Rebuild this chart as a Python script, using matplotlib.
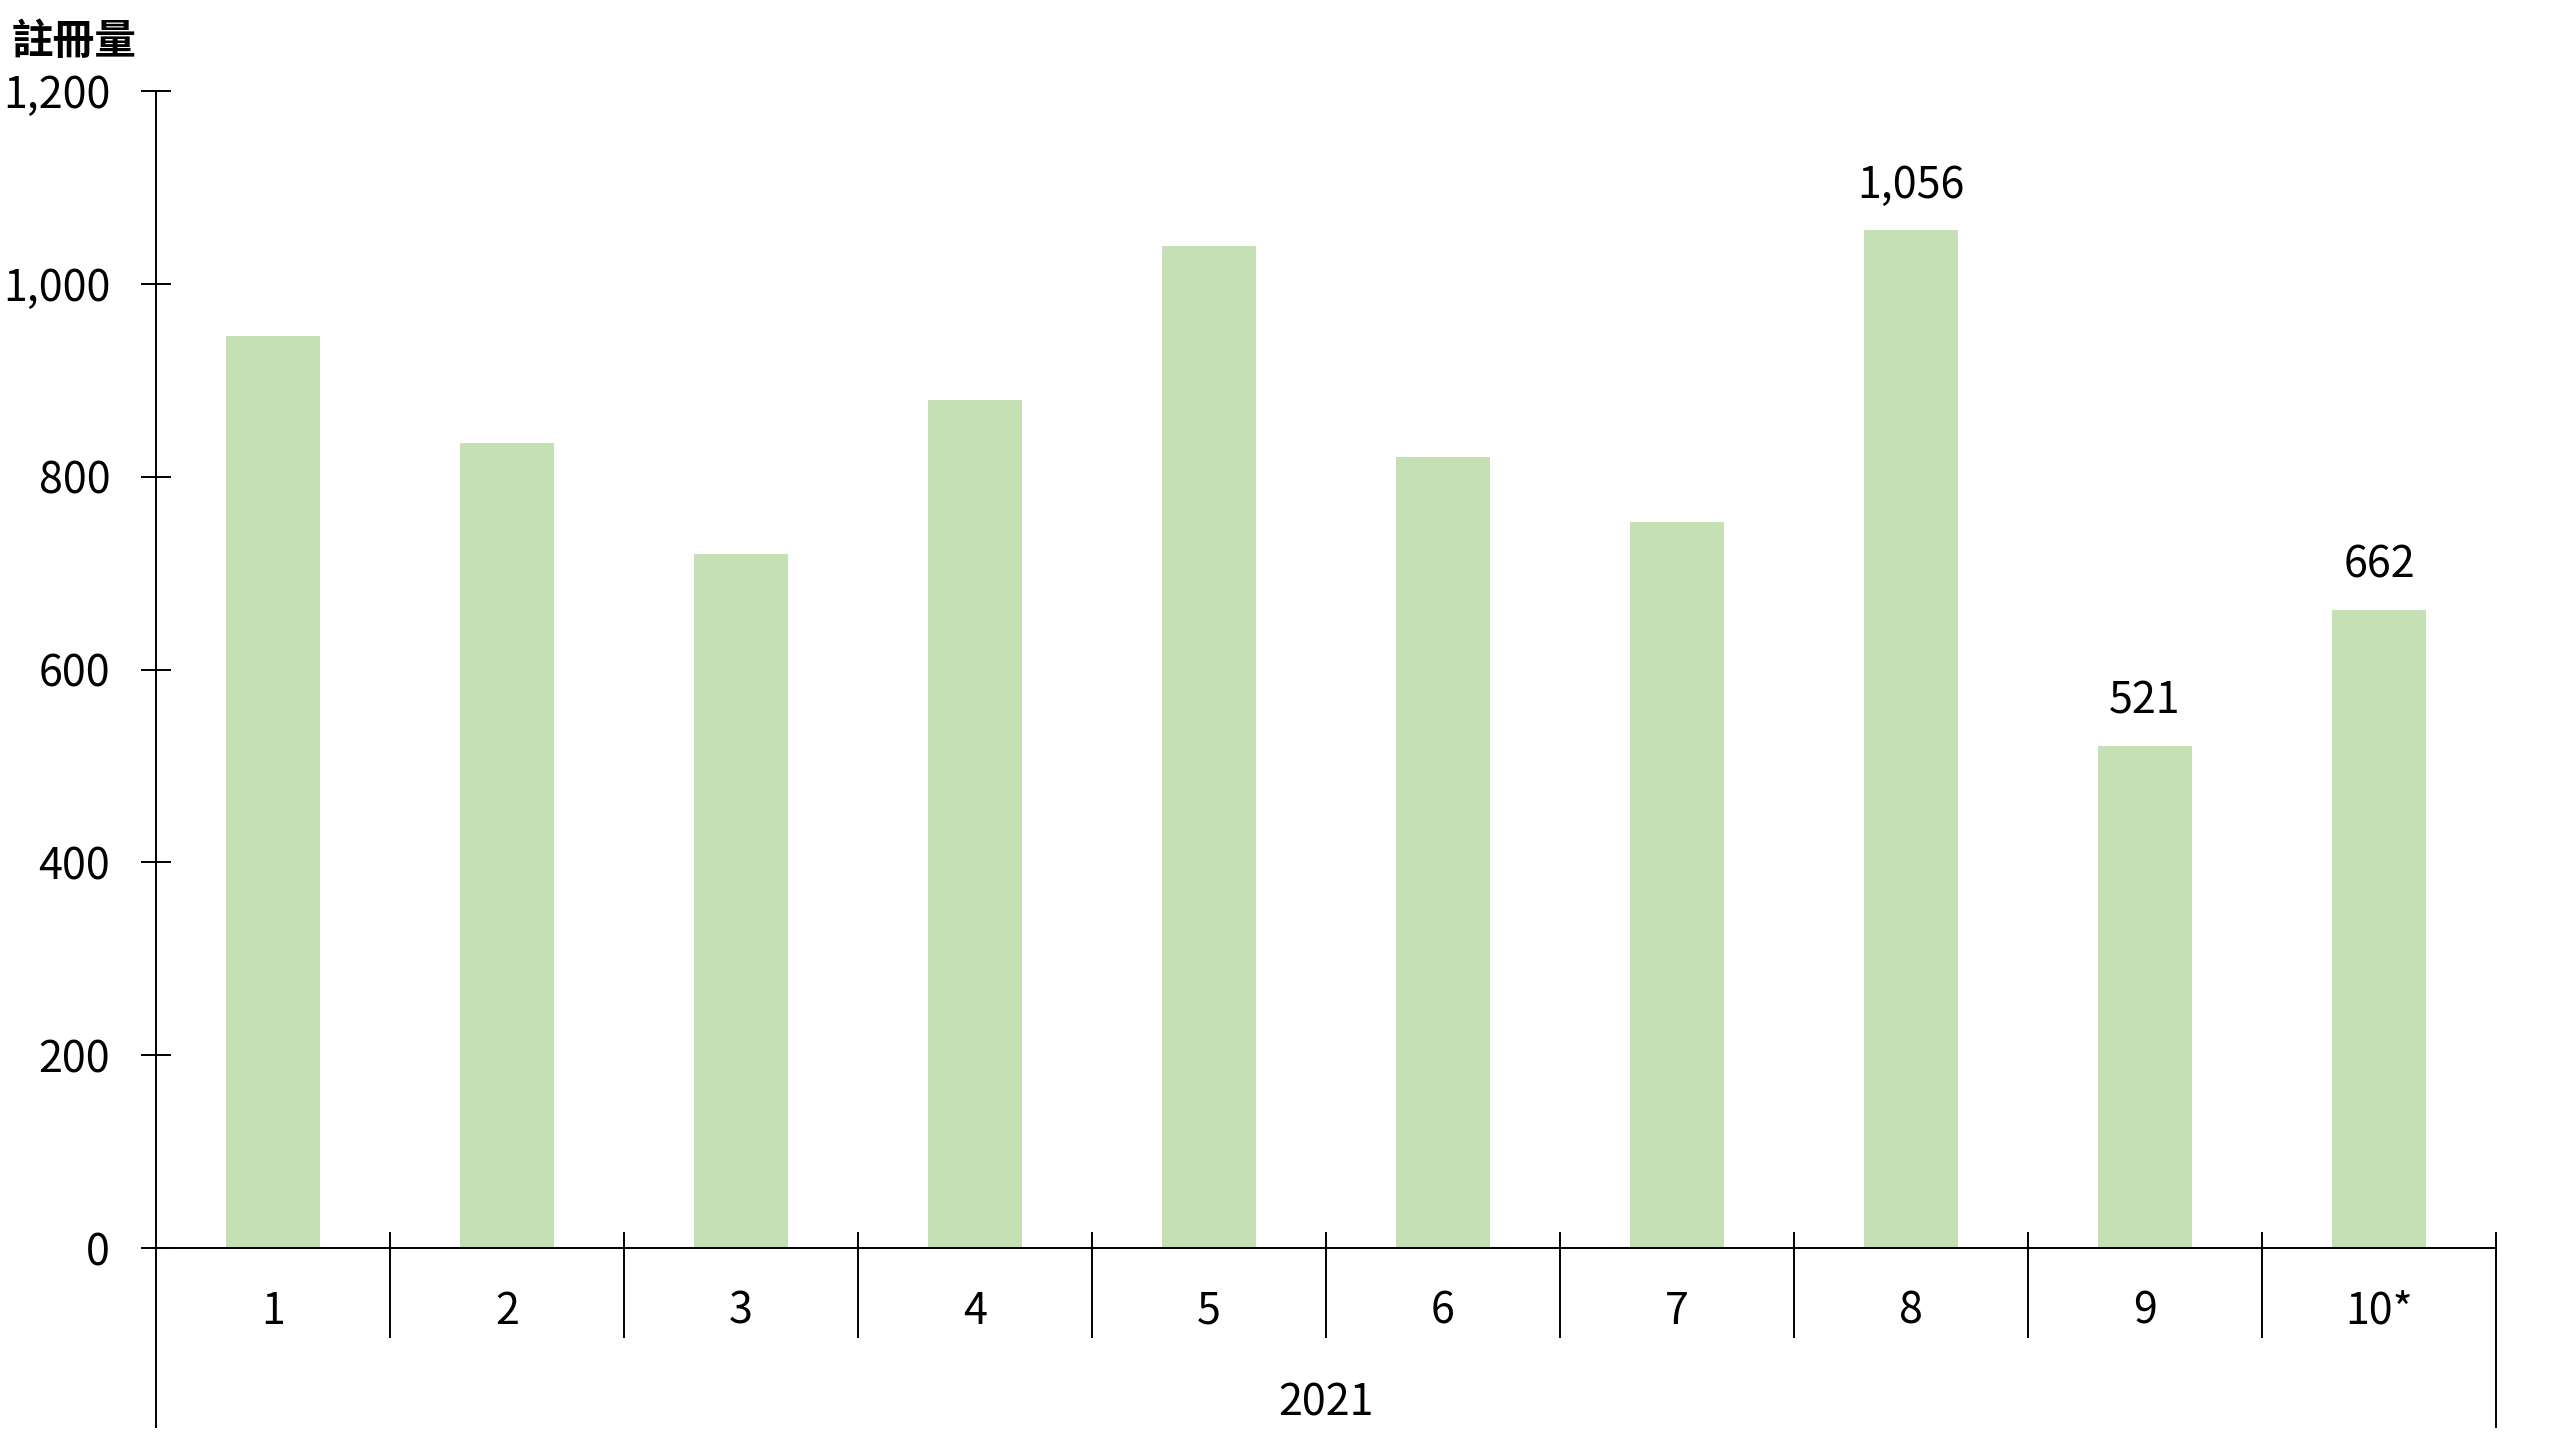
import matplotlib
matplotlib.use("Agg")
import matplotlib.pyplot as plt
import matplotlib.transforms as mtransforms

plt.rcParams['font.family'] = ['Noto Sans CJK TC', 'DejaVu Sans']

# data
months = ['1', '2', '3', '4', '5', '6', '7', '8', '9', '10*']
values = [946, 835, 720, 880, 1039, 820, 753, 1056, 521, 662]
labelled = [7, 8, 9]  # bars that carry a value label
year_label = '2021'
y_ticks = [0, 200, 400, 600, 800, 1000, 1200]
y_title = '註冊量'

W, H = 2560, 1440
fig = plt.figure(figsize=(W / 100, H / 100), dpi=100)
ax_left, ax_right, ax_top, ax_bot = 156, 2496, 91, 1248
ax = fig.add_axes([ax_left / W, 1 - ax_bot / H, (ax_right - ax_left) / W, (ax_bot - ax_top) / H])
axh = ax_bot - ax_top

xpos = [i + 0.5 for i in range(len(months))]
ax.bar(xpos, values, width=0.4, color='#C5E0B4', zorder=2)

for i in labelled:
    ax.annotate(f'{values[i]:,}', (xpos[i], values[i]), xytext=(0, 44), textcoords='offset pixels',
                ha='center', va='center', fontsize=31)

ax.set_xlim(0, len(months))
ax.set_ylim(0, 1200)
ax.set_yticks(y_ticks)
ax.set_yticklabels([f'{v:,}' for v in y_ticks], fontsize=31)
ax.tick_params(axis='y', direction='inout', length=22, width=1.4, pad=22)
ax.set_xticks([])
for s in ['top', 'right']:
    ax.spines[s].set_visible(False)
for s in ['left', 'bottom']:
    ax.spines[s].set_linewidth(1.4)

# category separators and outer frame lines below the axis
trans = mtransforms.blended_transform_factory(ax.transData, ax.transAxes)
up = 15 / axh
for k in range(1, len(months)):
    ax.plot([k, k], [up, -89 / axh], color='black', lw=1.4, transform=trans, clip_on=False)
ax.plot([0, 0], [0, -179 / axh], color='black', lw=1.4, transform=trans, clip_on=False)
ax.plot([len(months)] * 2, [up, -179 / axh], color='black', lw=1.4, transform=trans, clip_on=False)

for x, m in zip(xpos, months):
    ax.text(x, -64 / axh, m, transform=trans, ha='center', va='center', fontsize=31)
ax.text(len(months) / 2, -155 / axh, year_label, transform=trans, ha='center', va='center', fontsize=31)

fig.text(12 / W, 1 - 42 / H, y_title, ha='left', va='center', fontsize=30, fontweight='bold')

fig.savefig('out.png', dpi=100)
